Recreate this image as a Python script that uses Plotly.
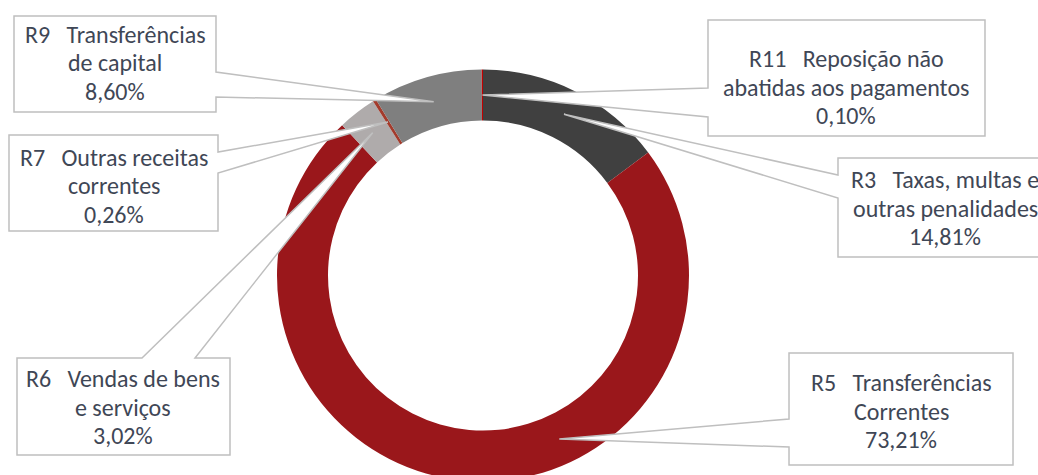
import math
import plotly.graph_objects as go

# ---- data ----
codes = ["R3", "R5", "R6", "R7", "R9", "R11"]
line1 = ["Taxas, multas e", "Transferências", "Vendas de bens", "Outras receitas",
         "Transferências", "Reposição não"]
line2 = ["outras penalidades", "Correntes", "e serviços", "correntes",
         "de capital", "abatidas aos pagamentos"]
values = [14.81, 73.21, 3.02, 0.26, 8.60, 0.10]
colors = ["#404040", "#9A171B", "#AFABAB", "#A33B2C", "#7F7F7F", "#C00000"]

# ---- layout geometry (pixels) ----
W, H = 1038, 482
CX, CY, R_OUT, R_IN = 483, 275.5, 206, 155
R_TIP = (R_OUT + R_IN) / 2
LINE_H = 28.5

# callout boxes: x0, y0, x1, y1, side of wedge, base start, base end, text centre x, y
boxes = {
    "R3":  (838, 158, 1052, 257, "left", 175, 198, 945, 208),
    "R5":  (789, 353, 1013, 465, "left", 419, 447, 901, 411),
    "R6":  (17, 358, 230, 455, "top", 142, 195, 123, 407),
    "R7":  (9, 135, 218, 231, "right", 152, 173, 114, 186),
    "R9":  (14, 16, 216, 112, "right", 72, 97, 115, 63),
    "R11": (708, 20, 985, 136, "left", 88, 117, 846, 87),
}
tip_angle_override = {"R5": 155.0}


def px(x):
    return x / W


def py(y):
    return 1 - y / H


fig = go.Figure(go.Pie(
    labels=codes, values=values, sort=False, direction="clockwise", rotation=0,
    hole=R_IN / R_OUT, marker=dict(colors=colors, line=dict(width=0)),
    textinfo="none", hoverinfo="label+percent", showlegend=False,
    domain=dict(x=[px(CX - R_OUT), px(CX + R_OUT)], y=[py(CY + R_OUT), py(CY - R_OUT)]),
))

total = sum(values)
cum = 0.0
shapes, annotations = [], []
for code, v, l1, l2 in zip(codes, values, line1, line2):
    mid = (cum + v / 2) / total * 360
    cum += v
    ang = tip_angle_override.get(code, mid)
    tx = CX + R_TIP * math.sin(math.radians(ang))
    ty = CY - R_TIP * math.cos(math.radians(ang))
    x0, y0, x1, y1, side, b0, b1, tcx, tcy = boxes[code]
    if side == "left":
        pts = [(x0, y0), (x1, y0), (x1, y1), (x0, y1), (x0, b1), (tx, ty), (x0, b0)]
    elif side == "right":
        pts = [(x0, y0), (x1, y0), (x1, b0), (tx, ty), (x1, b1), (x1, y1), (x0, y1)]
    else:  # top
        pts = [(x0, y0), (b0, y0), (tx, ty), (b1, y0), (x1, y0), (x1, y1), (x0, y1)]
    path = "M " + " L ".join(f"{px(a):.5f},{py(b):.5f}" for a, b in pts) + " Z"
    shapes.append(dict(type="path", path=path, xref="paper", yref="paper",
                       fillcolor="white", line=dict(color="#BFBFBF", width=1.5),
                       layer="above"))
    pct = f"{v:.2f}".replace(".", ",") + "%"
    lines = [f"{code}\u00a0\u00a0\u00a0{l1}", l2, pct]
    for i, t in enumerate(lines):
        annotations.append(dict(x=px(tcx), y=py(tcy + (i - 1) * LINE_H),
                                xref="paper", yref="paper",
                                text=t, showarrow=False, xanchor="center",
                                yanchor="middle", align="center",
                                font=dict(family="Carlito, Calibri, Lato", size=24,
                                          color="#3F4756")))

fig.update_layout(
    width=W, height=H, margin=dict(l=0, r=0, t=0, b=0),
    paper_bgcolor="white", plot_bgcolor="white",
    shapes=shapes, annotations=annotations,
)

fig.write_html(
    "out.html",
    config={"displayModeBar": False},
    post_script="document.documentElement.style.overflow='hidden';"
                "document.body.style.overflow='hidden';document.body.style.margin='0';",
)
